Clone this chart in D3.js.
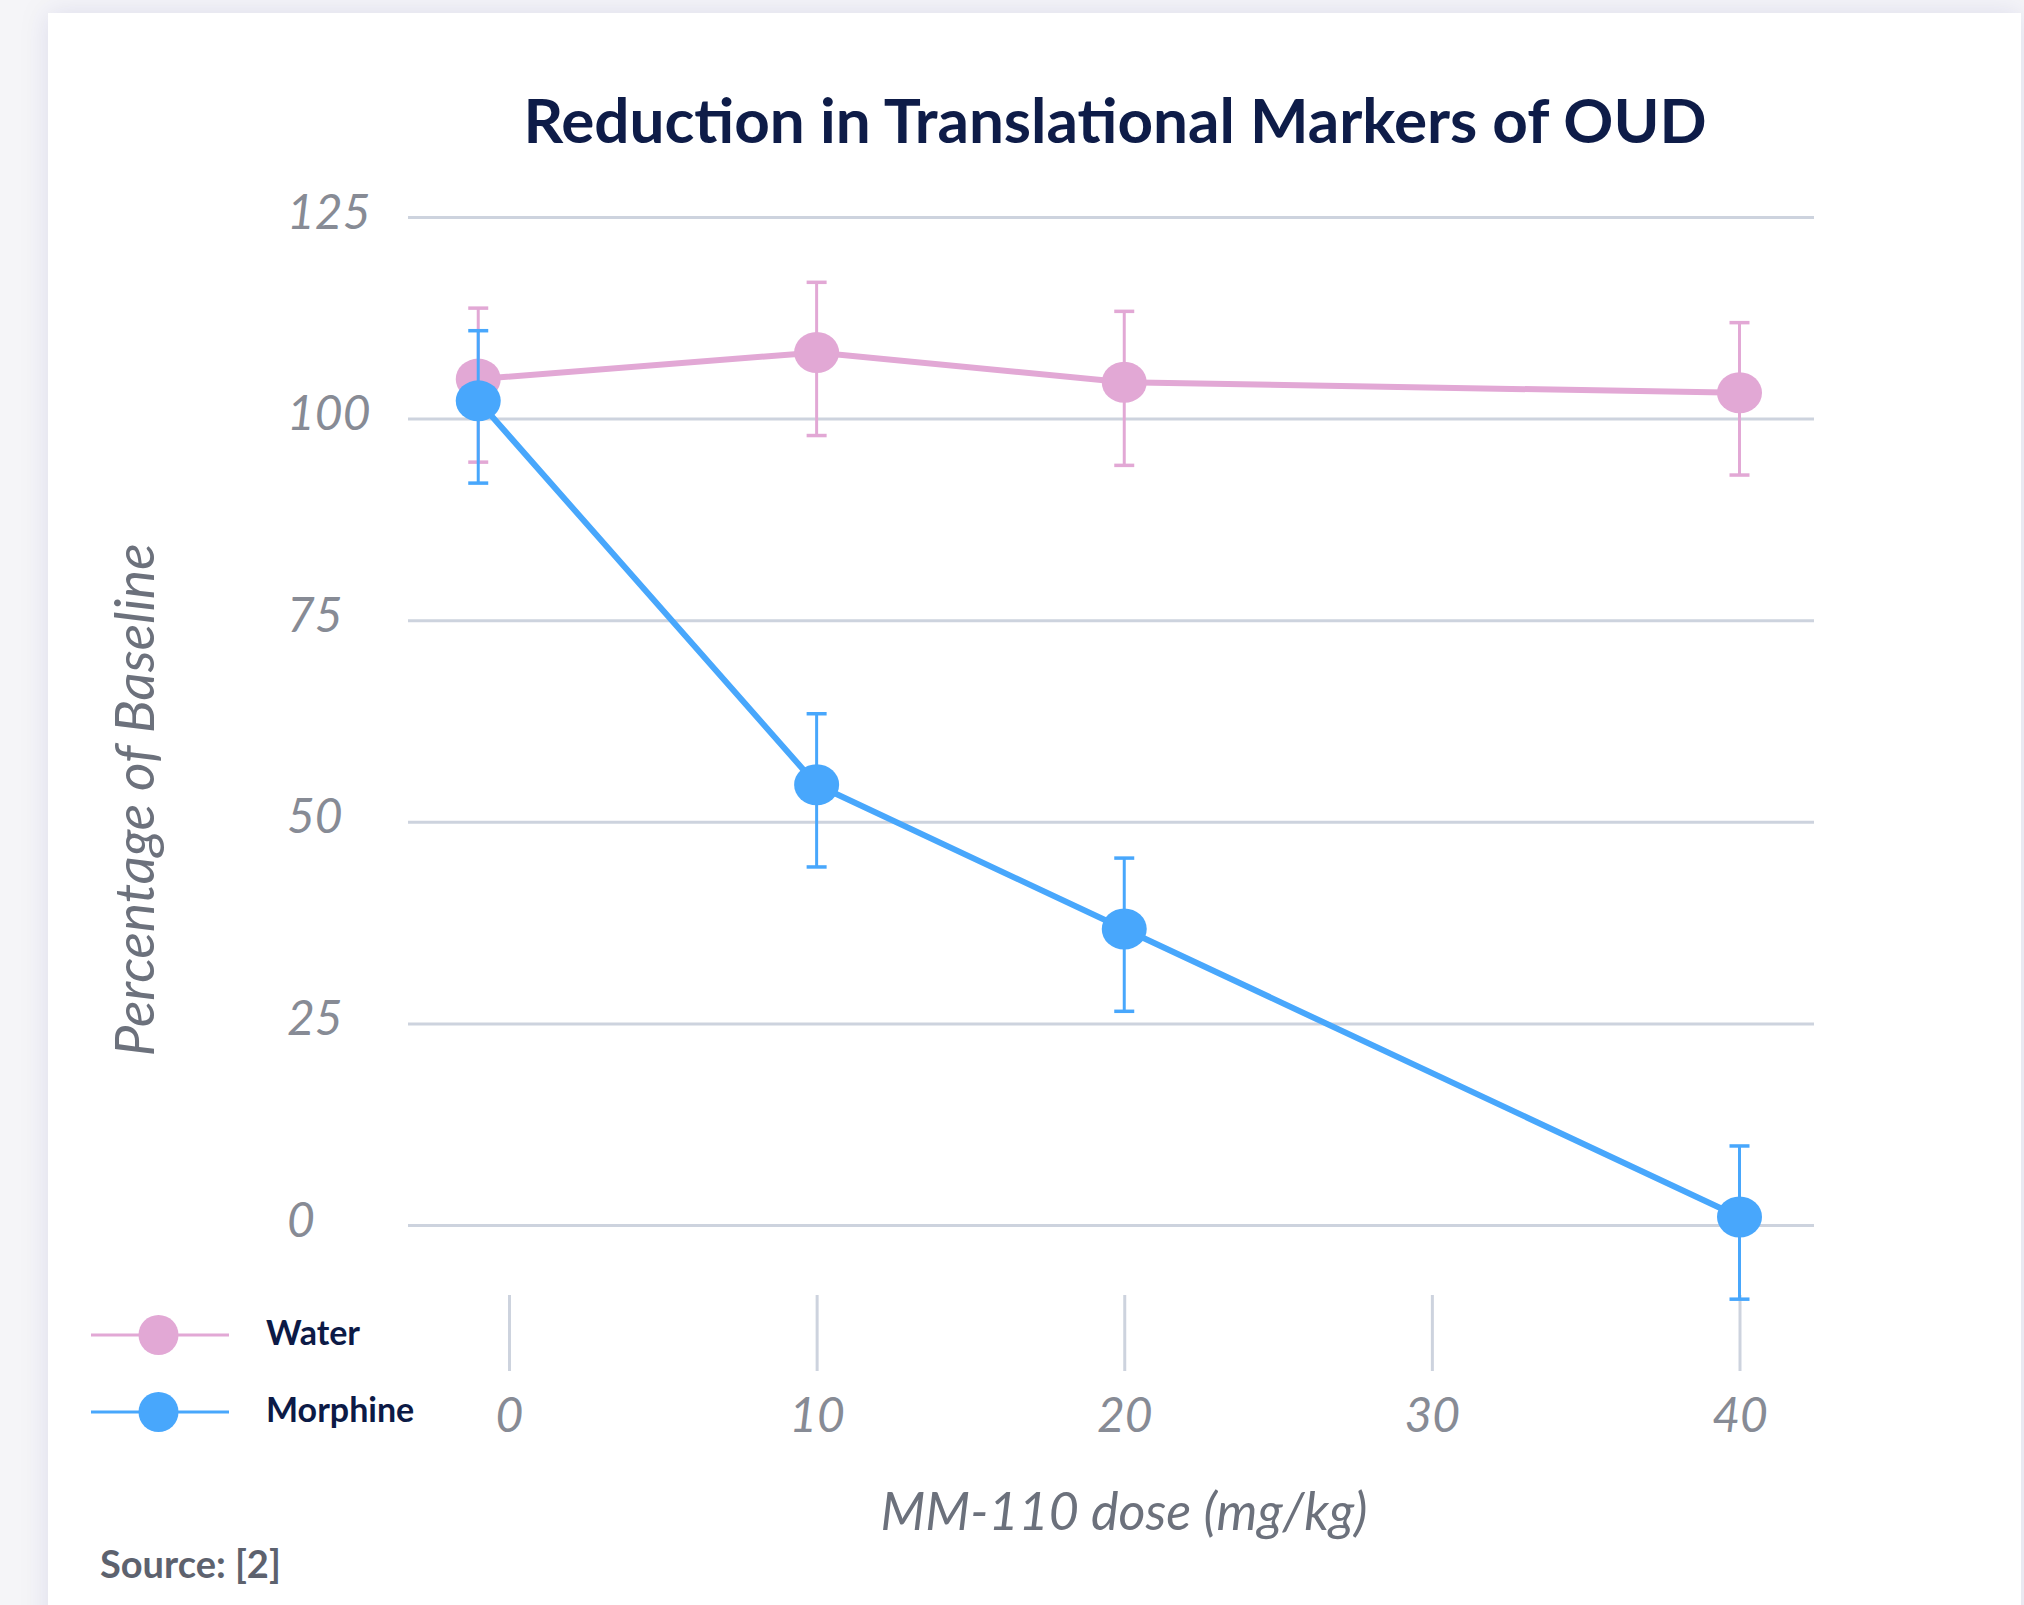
<!DOCTYPE html>
<html>
<head>
<meta charset="utf-8">
<script src="https://cdn.jsdelivr.net/npm/d3@7"></script>
<style>
  html, body { margin: 0; padding: 0; background: #f5f5f8; }
  svg { display: block; }
</style>
</head>
<body>
<svg id="chart"></svg>
<script>
// data
var doses = [0, 10, 20, 40];
var doseX = [-1, 10, 20, 40];          // dose-0 markers sit just left of the 0 tick
var xTicks = [0, 10, 20, 30, 40];
var yTicks = [0, 25, 50, 75, 100, 125];

var waterMean = [104.9, 108.2, 104.5, 103.2];
var waterLow  = [94.6, 97.9, 94.2, 93.0];
var waterHigh = [113.7, 116.9, 113.3, 111.9];

var morphMean = [102.2, 54.6, 36.7, 1.0];
var morphLow  = [92.0, 44.4, 26.5, -9.2];
var morphHigh = [110.9, 63.4, 45.5, 9.8];

var seriesNames = ["Water", "Morphine"];
var seriesColors = ["#e2a8d5", "#48a7fc"];

// layout
var W = 2024, H = 1605;
var FONT = "Lato, 'Open Sans', sans-serif";
var gridLeft = 408, gridRight = 1814;

var svg = d3.select("#chart").attr("width", W).attr("height", H);

// card with soft shadow
var defs = svg.append("defs");
var f = defs.append("filter").attr("id", "shadow")
    .attr("x", -0.05).attr("y", -0.05).attr("width", 1.1).attr("height", 1.1);
f.append("feDropShadow").attr("dx", 0).attr("dy", 0).attr("stdDeviation", 14)
    .attr("flood-color", "#3c3c78").attr("flood-opacity", 0.10);

svg.append("rect").attr("x", 48).attr("y", 13).attr("width", 1973).attr("height", 1640)
    .attr("fill", "#fff").attr("filter", "url(#shadow)");

var x = d3.scaleLinear().domain([0, 40]).range([509, 1739.5]);
var y = d3.scaleLinear().domain([0, 125]).range([1225, 217]);

// title
svg.append("text")
    .attr("x", 1115).attr("y", 143)
    .attr("text-anchor", "middle")
    .attr("font-family", FONT).attr("font-weight", 700).attr("font-size", 62)
    .attr("fill", "#0e1c48")
    .text("Reduction in Translational Markers of OUD");

// y axis + gridlines
var yAxis = svg.append("g")
    .attr("transform", `translate(${gridLeft},0)`)
    .call(d3.axisLeft(y).tickValues(yTicks).tickSize(-(gridRight - gridLeft)).tickFormat(d3.format("d")));
yAxis.select(".domain").remove();
yAxis.selectAll(".tick line").attr("stroke", "#cdd3de").attr("stroke-width", 3);
yAxis.selectAll(".tick text")
    .attr("x", -121).attr("dy", 11)
    .attr("text-anchor", "start")
    .attr("font-family", FONT).attr("font-style", "italic").attr("font-size", 48)
    .attr("fill", "#878b95");

// x axis
var xAxis = svg.append("g")
    .attr("transform", "translate(0,1295)")
    .call(d3.axisBottom(x).tickValues(xTicks).tickSize(76).tickFormat(d3.format("d")));
xAxis.select(".domain").remove();
xAxis.selectAll(".tick line").attr("stroke", "#cdd3de").attr("stroke-width", 3);
xAxis.selectAll(".tick text")
    .attr("y", 137).attr("dy", 0)
    .attr("font-family", FONT).attr("font-style", "italic").attr("font-size", 48)
    .attr("fill", "#878b95");

// axis titles
svg.append("text")
    .attr("x", 1124).attr("y", 1530)
    .attr("text-anchor", "middle")
    .attr("font-family", FONT).attr("font-style", "italic").attr("font-size", 52)
    .attr("fill", "#6c717c")
    .text("MM-110 dose (mg/kg)");

svg.append("text")
    .attr("transform", "translate(154,800) rotate(-90)")
    .attr("text-anchor", "middle")
    .attr("font-family", FONT).attr("font-style", "italic").attr("font-size", 55)
    .attr("fill", "#6c717c")
    .text("Percentage of Baseline");

// series
var series = [
    { mean: waterMean, low: waterLow, high: waterHigh },
    { mean: morphMean, low: morphLow, high: morphHigh }
];

var line = d3.line().x(d => x(d.x)).y(d => y(d.v));

series.forEach(function(s, i) {
    var color = seriesColors[i];
    var pts = doses.map((d, j) => ({ x: doseX[j], v: s.mean[j], lo: s.low[j], hi: s.high[j] }));
    var g = svg.append("g");

    g.append("path").datum(pts)
        .attr("d", line)
        .attr("fill", "none").attr("stroke", color).attr("stroke-width", 6);

    // error bars
    var eb = g.selectAll(".eb").data(pts).enter().append("g");
    eb.append("line")
        .attr("x1", d => x(d.x)).attr("x2", d => x(d.x))
        .attr("y1", d => y(d.hi)).attr("y2", d => y(d.lo))
        .attr("stroke", color).attr("stroke-width", 3);
    eb.append("line")
        .attr("x1", d => x(d.x) - 10).attr("x2", d => x(d.x) + 10)
        .attr("y1", d => y(d.hi)).attr("y2", d => y(d.hi))
        .attr("stroke", color).attr("stroke-width", 3.5);
    eb.append("line")
        .attr("x1", d => x(d.x) - 10).attr("x2", d => x(d.x) + 10)
        .attr("y1", d => y(d.lo)).attr("y2", d => y(d.lo))
        .attr("stroke", color).attr("stroke-width", 3.5);

    g.selectAll("ellipse").data(pts).enter().append("ellipse")
        .attr("cx", d => x(d.x)).attr("cy", d => y(d.v))
        .attr("rx", 22.5).attr("ry", 20.5)
        .attr("fill", color);
});

// legend
var legend = svg.append("g");
seriesNames.forEach(function(name, i) {
    var ly = 1335 + i * 77;
    legend.append("line")
        .attr("x1", 91).attr("x2", 229).attr("y1", ly).attr("y2", ly)
        .attr("stroke", seriesColors[i]).attr("stroke-width", 3);
    legend.append("circle")
        .attr("cx", 158.5).attr("cy", ly).attr("r", 20)
        .attr("fill", seriesColors[i]);
    legend.append("text")
        .attr("x", 266).attr("y", ly + 10)
        .attr("font-family", FONT).attr("font-weight", 700).attr("font-size", 34)
        .attr("fill", "#0c1a46")
        .text(name);
});

// source
svg.append("text")
    .attr("x", 100).attr("y", 1578)
    .attr("font-family", FONT).attr("font-weight", 700).attr("font-size", 38)
    .attr("fill", "#5d626e")
    .text("Source: [2]");
</script>
</body>
</html>
